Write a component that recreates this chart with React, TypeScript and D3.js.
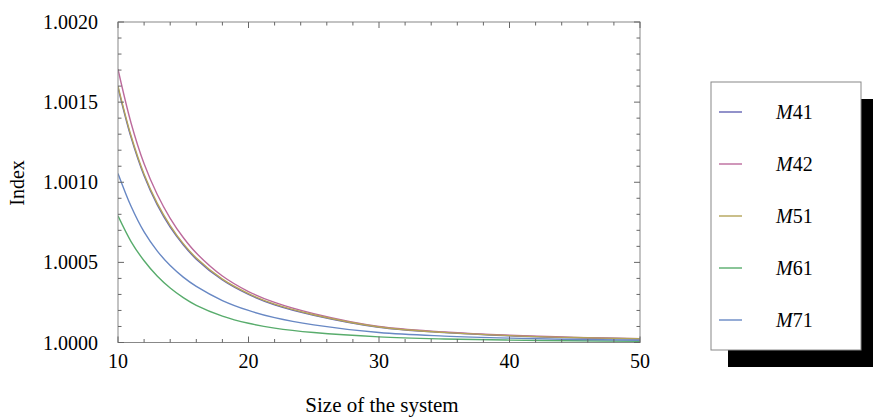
import React from 'react';
import { scaleLinear, line, curveCatmullRom, range, format } from 'd3';

const width = 873;
const height = 417;
const plot = { left: 118, right: 640, top: 22, bottom: 342.5 };

// system sizes where the curves were read
const sizes = [10, 11, 12, 13, 14, 15, 16, 18, 20, 22, 25, 30, 35, 40, 45, 50];

const m41 = [1.00159, 1.00128, 1.00104, 1.00086, 1.00072, 1.00061, 1.00052, 1.00039, 1.0003, 1.000235, 1.00017, 1.000095, 1.000062, 1.000042, 1.00003, 1.000022];
const m42 = [1.001705, 1.00137, 1.001115, 1.000925, 1.000775, 1.000655, 1.000558, 1.000415, 1.000318, 1.00025, 1.00018, 1.0001, 1.000066, 1.000045, 1.000032, 1.000024];
const m51 = [1.0016, 1.00129, 1.00105, 1.00087, 1.00073, 1.000617, 1.000527, 1.000395, 1.000305, 1.000239, 1.000173, 1.000097, 1.000063, 1.000043, 1.000031, 1.000023];
const m61 = [1.00079, 1.00063, 1.00051, 1.000415, 1.00034, 1.00028, 1.000232, 1.000165, 1.00012, 1.00009, 1.000062, 1.000035, 1.000022, 1.000015, 1.000011, 1.000008];
const m71 = [1.001055, 1.00085, 1.00069, 1.000572, 1.00048, 1.000408, 1.00035, 1.000262, 1.0002, 1.000155, 1.00011, 1.000062, 1.00004, 1.000027, 1.000019, 1.000014];

const seriesNames = ['41', '42', '51', '61', '71'];
const seriesValues = [m41, m42, m51, m61, m71];
const colors = ['#6464b4', '#bc6a9c', '#b4a458', '#58ac6c', '#6888c4'];

const xMajor = [10, 20, 30, 40, 50];
const xMinor = range(10, 51, 2);
const yMajor = [1.0, 1.0005, 1.001, 1.0015, 1.002];
const yMinor = range(0, 21).map((i) => 1 + i * 0.0001);

const serif = '"Liberation Serif", "DejaVu Serif", Times, serif';

export default function App() {
  const x = scaleLinear().domain([10, 50]).range([plot.left, plot.right]);
  const y = scaleLinear().domain([1.0, 1.002]).range([plot.bottom, plot.top]);
  const fmt = format('.4f');

  const path = line<number>()
    .x((_, i) => x(sizes[i]))
    .y((d) => y(d))
    .curve(curveCatmullRom.alpha(0.5));

  const tickColor = '#666';
  const legend = { x: 711, y: 82, w: 150, h: 268, shadow: 17 };

  return (
    <svg width={width} height={height} style={{ position: 'absolute', left: 0, top: 0, background: '#fff' }}>
      <defs>
        <clipPath id="plotclip">
          <rect x={plot.left} y={plot.top} width={plot.right - plot.left} height={plot.bottom - plot.top} />
        </clipPath>
      </defs>

      {/* curves */}
      <g clipPath="url(#plotclip)">
        {seriesValues.map((vals, i) => (
          <path key={seriesNames[i]} d={path(vals) || ''} fill="none" stroke={colors[i]} strokeWidth={1.4} />
        ))}
      </g>

      {/* frame */}
      <rect x={plot.left} y={plot.top} width={plot.right - plot.left} height={plot.bottom - plot.top}
        fill="none" stroke="#888" strokeWidth={1} />

      {/* x ticks, bottom and top */}
      {xMinor.map((t) => {
        const len = xMajor.includes(t) ? 6 : 3.5;
        return (
          <g key={'x' + t} stroke={tickColor} strokeWidth={1}>
            <line x1={x(t)} x2={x(t)} y1={plot.bottom} y2={plot.bottom - len} />
            <line x1={x(t)} x2={x(t)} y1={plot.top} y2={plot.top + len} />
          </g>
        );
      })}
      {/* y ticks, left and right */}
      {yMinor.map((t, i) => {
        const len = i % 5 === 0 ? 6 : 3.5;
        return (
          <g key={'y' + i} stroke={tickColor} strokeWidth={1}>
            <line x1={plot.left} x2={plot.left + len} y1={y(t)} y2={y(t)} />
            <line x1={plot.right} x2={plot.right - len} y1={y(t)} y2={y(t)} />
          </g>
        );
      })}

      {/* tick labels */}
      {xMajor.map((t) => (
        <text key={'xl' + t} x={x(t)} y={368} textAnchor="middle" fontFamily={serif} fontSize={20} fill="#000">
          {t}
        </text>
      ))}
      {yMajor.map((t) => (
        <text key={'yl' + t} x={98} y={y(t) + 7} textAnchor="end" fontFamily={serif} fontSize={20} fill="#000">
          {fmt(t)}
        </text>
      ))}

      {/* axis titles */}
      <text x={382} y={412} textAnchor="middle" fontFamily={serif} fontSize={21} fill="#000">
        Size of the system
      </text>
      <text transform={`translate(24,183) rotate(-90)`} textAnchor="middle" fontFamily={serif} fontSize={20} fill="#000">
        Index
      </text>

      {/* legend */}
      <rect x={legend.x + legend.shadow} y={legend.y + legend.shadow} width={legend.w} height={legend.h} fill="#000" />
      <rect x={legend.x} y={legend.y} width={legend.w} height={legend.h} fill="#fff" stroke="#888" strokeWidth={1} />
      {seriesNames.map((name, i) => {
        const cy = 112 + i * 52;
        return (
          <g key={'lg' + name}>
            <line x1={719} x2={742} y1={cy} y2={cy} stroke={colors[i]} strokeWidth={1.4} />
            <text x={776} y={cy + 7} fontFamily={serif} fontSize={20} fill="#000">
              <tspan fontStyle="italic">M</tspan>
              {name}
            </text>
          </g>
        );
      })}
    </svg>
  );
}
